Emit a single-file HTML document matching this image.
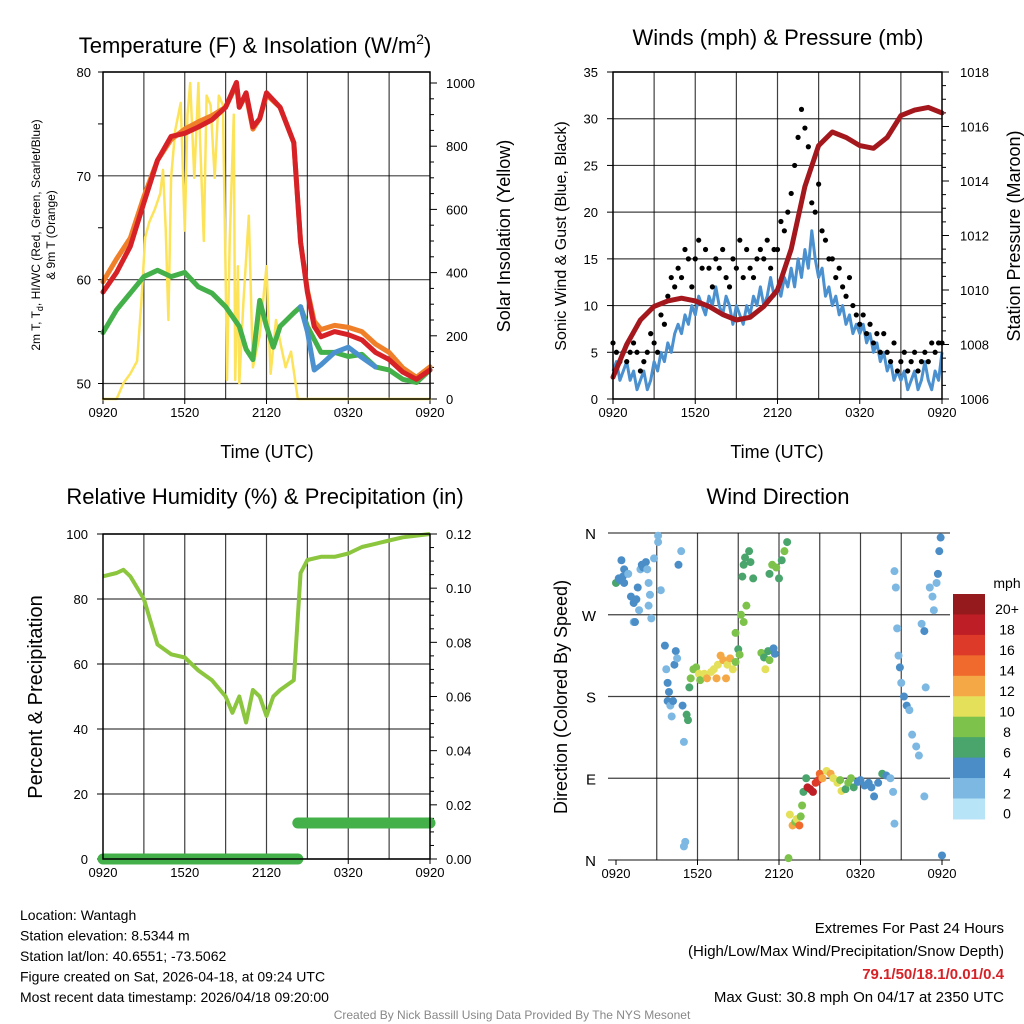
<!DOCTYPE html>
<html><head><meta charset="utf-8">
<style>
html,body{margin:0;padding:0;background:#fff;}
svg{display:block;font-family:"Liberation Sans",sans-serif;}
</style></head>
<body>
<svg id="c" width="1024" height="1024" viewBox="0 0 1024 1024" xmlns="http://www.w3.org/2000/svg"></svg>
<script>
// ---------- DATA ----------
const xTickLabels = ["0920","1520","2120","0320","0920"];
// Panel 1: temperature (F) & insolation
const tempHours = [0,1,2,3,4,5,6,7,8,9,9.8,10,10.5,11,11.5,12,13,14,14.5,15,15.5,16,17,18,19,20,21,22,23,24];
const tempRed   = [58.8,60.7,63.2,67.4,71.5,73.8,74.1,74.7,75.4,76.6,79.0,76.6,78,74.7,75.5,78,76.6,73.2,63.6,58.8,55.5,54.5,55,54.7,54.2,53,52.3,51.1,50.4,51.3];
const tempOrange= [59.8,62.0,64.0,68.0,71.5,73.5,74.5,75.2,75.8,76.6,78.8,76.6,77.8,74.5,75.5,77.8,76.6,73.2,63.6,59.0,56.0,55.2,55.6,55.4,55.0,53.8,53.0,51.5,50.6,51.6];
const dewHours  = [0,1,2,3,4,5,6,7,8,9,10,10.5,11,11.5,12,12.5,13,14,14.5,15,16,17,18,19,20,21,22,23,24];
const dewGreen  = [54.9,57.1,58.7,60.3,60.9,60.3,60.7,59.3,58.7,57.4,55.5,53.3,52.3,58,55.5,53.5,55.5,56.8,57.4,55.5,53,53,52.6,52.8,51.6,51.3,50.4,50.1,51.3];
const wcHours   = [14.5,15,15.5,16,17,18,19,20];
const wcBlue    = [57.4,55,51.3,51.8,53,53.5,52.5,51.6];
const solHours  = [0,1,1.5,2,2.5,2.8,3.1,3.4,3.8,4.2,4.4,4.6,4.8,5.0,5.3,5.7,6.0,6.2,6.4,6.7,7.0,7.1,7.4,7.6,7.9,8.2,8.5,8.8,9.0,9.1,9.3,9.6,9.7,9.9,10.0,10.3,10.7,11.0,11.5,12.0,12.3,12.7,13.1,13.4,13.8,14.3,24];
const solar     = [0,0,50,80,120,300,512,560,600,650,725,540,250,700,850,937,533,900,1000,700,1000,850,500,960,930,700,960,930,400,60,500,900,60,420,50,300,580,100,200,420,80,250,160,100,150,0,0];
// Panel 2: winds & pressure (wind/gust every 15 min, pressure hourly)
const windSpeed = [3,4,2,3, 4,2,3,1, 2,3,1,2, 4,3,5,4, 6,5,7,8, 7,9,8,10, 9,11,10,9, 11,10,12,10, 9,11,10,8, 10,9,8,10, 9,11,10,12, 10,11,13,11, 12,11,13,12, 14,12,15,13, 16,14,18,15, 13,14,11,12, 10,11,9,10, 8,9,7,8, 7,8,6,7, 5,6,4,5, 3,4,2,3, 2,3,1,2, 3,1,2,4, 2,1,3,2, 5];
const gustSpeed = [6,5,4,5,4,5,6,5,3,4,5,7,6,5,9,8,11,13,12,14,13,16,15,12,15,17,14,16,14,12,15,14,16,13,12,15,14,17,13,16,14,13,15,16,15,17,14,16,16,19,18,20,22,25,28,31,29,27,21,20,23,18,17,15,15,13,14,12,11,13,10,9,8,9,7,8,6,7,5,7,5,4,6,3,4,5,3,4,5,3,4,5,4,6,5,6,6];
const pressure  = [1006.8,1008,1008.9,1009.4,1009.6,1009.7,1009.6,1009.4,1009.1,1008.9,1009.0,1009.4,1010.0,1011.5,1013.8,1015.3,1015.8,1015.6,1015.3,1015.2,1015.6,1016.4,1016.6,1016.7,1016.5];
// Panel 3: RH & precip
const rhHours = [0,1,1.5,2,3,3.5,4,5,6,7,8,9,9.5,10,10.5,11,11.5,12,12.5,13,14,14.5,15,16,17,18,19,20,21,22,23,24];
const rhValues= [87,88,89,87,80,73,66,63,62,58,55,50,45,50,42,52,50,44,50,52,55,88,92,93,93,94,96,97,98,99,99.5,100];
const precipHours = [0,14.3,14.3,24];
const precipValues= [0,0,0.0133,0.0133];
// Panel 4: wind direction
const dirHours = [0,0.2,0.3,0.5,0.6,0.4,0.6,0.9,1.1,1.3,1.3,1.4,1.5,1.6,1.7,1.8,1.9,2,2.2,2.3,2.4,2.4,2.5,2.6,2.8,3.1,3.1,3.3,3.6,3.7,3.8,3.9,3.8,4,4.1,4.2,4.3,4.4,4.5,4.6,4.8,4.9,5.0,5.0,5.1,5.2,5.3,
 5.4,5.5,5.7,5.9,6.1,6.2,6.5,6.7,7.0,7.2,7.4,7.5,7.7,7.9,8.1,8.2,8.4,8.6,8.8,8.8,9.0,9.1,9.2,9.4,
 9.3,9.4,9.5,9.8,9.9,10.1,9.6,
 10.7,10.9,11.0,11.2,11.3,11.6,11.7,
 11.3,11.5,11.8,12.0,12.2,12.4,12.6,
 12.7,
 12.8,13.0,13.2,13.3,13.5,13.6,
 13.7,13.8,14.0,
 14.1,14.3,14.5,14.7,14.9,15.0,15.2,
 15.5,15.8,16.0,16.3,16.5,16.6,16.9,17.1,17.3,17.5,17.8,18.0,18.3,18.6,18.8,19.0,19.3,19.6,19.9,20.2,
 20.4,20.5,20.5,
 20.6,20.7,20.8,20.9,21.0,21.2,21.4,21.6,21.8,22.1,22.3,22.7,22.5,22.7,22.8,23.1,23.3,23.4,23.6,23.7,23.8,23.9,24];
const dirDeg   = [305,310,308,312,305,330,320,315,290,283,262,262,287,300,275,320,325,322,328,320,305,280,292,266,332,350,357,297,236,210,195,185,175,170,158,175,215,230,222,325,340,170,130,15,20,160,154,190,200,210,212,205,198,205,200,207,210,200,215,225,220,200,215,222,210,218,250,232,226,270,262,312,325,333,340,328,310,280,228,223,210,230,220,233,227,315,325,322,310,330,340,350,2,50,38,42,45,38,48,60,75,90,80,78,75,85,88,95,90,98,95,90,85,88,76,78,85,90,80,86,88,82,85,80,70,85,95,93,90,75,40,318,300,255,225,212,195,180,170,165,138,125,115,70,260,252,190,300,290,275,305,315,340,355,5];
const dirSpeed = [6,4,4,4,4,3,3,2,3,4,2,4,4,3,2,2,4,4,3,2,2,1,1,2,2,2,2,1,4,2,4,4,4,2,2,4,3,4,2,4,2,3,2,2,2,6,6,6,8,8,8,10,8,10,12,10,10,12,10,12,12,12,10,12,10,8,8,6,8,8,8,6,6,6,6,6,6,8,8,6,10,6,8,4,4,6,8,8,6,6,8,6,8,10,12,8,10,14,8,8,6,6,18,18,18,16,16,14,12,10,12,10,10,8,10,6,8,8,6,4,4,4,4,4,4,4,6,4,2,2,1,1,2,2,2,4,2,4,4,2,1,2,2,2,2,3,1,2,2,1,2,3,4,4,4];
const cbLabels = ["0","2","4","6","8","10","12","14","16","18","20+"];
const cbColors = ["#b8e4f7","#7db8e3","#4a8dc7","#49a56c","#7cc24b","#e5e05a","#f5a846","#ef6a2c","#dd3a2a","#be1e25","#941a1d"];

// ---------- HELPERS ----------
const NS="http://www.w3.org/2000/svg";
const svg=document.getElementById('c');
function mk(tag,attrs,parent){const e=document.createElementNS(NS,tag);for(const k in attrs)e.setAttribute(k,attrs[k]);(parent||svg).appendChild(e);return e;}
function txt(s,x,y,size,anchor,parent,extra){const t=mk('text',Object.assign({x:x,y:y,'font-size':size,'text-anchor':anchor||'middle',fill:'#000'},extra||{}),parent);t.textContent=s;return t;}
function lin(d0,d1,r0,r1){return v=>r0+(v-d0)*(r1-r0)/(d1-d0);}

function frame(x0,x1,y0,y1,name){
  const g=mk('g',{});
  
  
  const xs=lin(0,24,x0,x1);
  for(let h=3;h<24;h+=3){const l=mk('line',{x1:xs(h),x2:xs(h),y1:y0,y2:y1,stroke:'#000','stroke-width':1.2,'stroke-opacity':0.75},g);
    
    }
  for(let i=0;i<5;i++){const x=xs(i*6);
    mk('line',{x1:x,x2:x,y1:y1,y2:y1+5,stroke:'#000','stroke-width':1},g);
    const t=txt(xTickLabels[i],x,y1+18,13,'middle',g);
    
    }
  return {g,xs};
}

// ---------- PANEL 1 ----------
(function(){
  const X0=103,X1=430,Y0=72,Y1=399;
  const {g,xs}=frame(X0,X1,Y0,Y1,'temperature-panel');
  const yT=lin(50,80,383.5,72), yS=lin(0,1000,399,83);
  [50,60,70,80].forEach(v=>{const l=mk('line',{x1:X0,x2:X1,y1:yT(v),y2:yT(v),stroke:'#000','stroke-width':1.2,'stroke-opacity':0.75},g);
    
    
    const t=txt(String(v),X0-12,yT(v)+5,13,'end',g);
    
    });
  for(let v=50;v<=80;v+=5)mk('line',{x1:X0-5,x2:X0,y1:yT(v),y2:yT(v),stroke:'#000'},g);
  for(let v=0;v<=1000;v+=50){mk('line',{x1:X1,x2:X1+(v%200?4:7),y1:yS(v),y2:yS(v),stroke:'#000'},g);}
  for(let v=0;v<=1000;v+=200){const t=txt(String(v),X1+16,yS(v)+5,13,'start',g);
    
    }
  function path(hs,vs,ys,col,w,name){let d='';hs.forEach((h,i)=>{d+=(i?'L':'M')+xs(h).toFixed(1)+','+ys(vs[i]).toFixed(1);});
    const p=mk('path',{d:d,fill:'none',stroke:col,'stroke-width':w,'stroke-linejoin':'round','stroke-linecap':'round'},g);
    
    }
  path(solHours,solar,yS,'#fde35a',2.5,'solar-insolation-line');
  path(dewHours,dewGreen,yT,'#43b049',5,'dewpoint-line');
  path(wcHours,wcBlue,yT,'#4b90cf',5,'windchill-line');
  path(tempHours,tempOrange,yT,'#f07f2a',5,'temp-9m-line');
  path(tempHours,tempRed,yT,'#d62227',5,'temp-2m-line');
  mk('rect',{x:X0,y:Y0,width:X1-X0,height:Y1-Y0,fill:'none',stroke:'#000','stroke-width':1.5},g);
  const t1=txt('Temperature (F) & Insolation (W/m',255,53,22,'middle',g);
  const sup=mk('tspan',{dy:-9,'font-size':14},t1);sup.textContent='2';
  const cl=mk('tspan',{dy:9},t1);cl.textContent=')';
  
  
  const xt=txt('Time (UTC)',267,458,18,'middle',g);
  
  
  const ya=txt('2m T, T',0,0,12,'middle',g,{transform:'translate(40,235) rotate(-90)'});
  const sub=mk('tspan',{dy:3,'font-size':9},ya);sub.textContent='d';
  const rest=mk('tspan',{dy:-3},ya);rest.textContent=', HI/WC (Red, Green, Scarlet/Blue)';
  
  
  const ya2=txt('& 9m T (Orange)',0,0,12,'middle',g,{transform:'translate(55,235) rotate(-90)'});
  
  
  const yr=txt('Solar Insolation (Yellow)',0,0,18,'middle',g,{transform:'translate(510,236) rotate(-90)'});
  
  
})();

// ---------- PANEL 2 ----------
(function(){
  const X0=613,X1=942,Y0=72,Y1=399;
  const {g,xs}=frame(X0,X1,Y0,Y1,'winds-panel');
  const yW=lin(0,35,399,72), yP=lin(1006,1018,399,72);
  for(let v=0;v<=35;v+=5){const l=mk('line',{x1:X0,x2:X1,y1:yW(v),y2:yW(v),stroke:'#000','stroke-width':1.2,'stroke-opacity':0.75},g);
    
    
    mk('line',{x1:X0-6,x2:X0,y1:yW(v),y2:yW(v),stroke:'#000'},g);
    const t=txt(String(v),X0-15,yW(v)+5,13,'end',g);
    
    }
  for(let v=1006;v<=1018;v+=0.5)mk('line',{x1:X1,x2:X1+(v%2?4:7),y1:yP(v),y2:yP(v),stroke:'#000'},g);
  for(let v=1006;v<=1018;v+=2){const t=txt(String(v),X1+18,yP(v)+5,13,'start',g);
    
    }
  let d='';windSpeed.forEach((v,i)=>{d+=(i?'L':'M')+xs(i*0.25).toFixed(1)+','+yW(v).toFixed(1);});
  const wp=mk('path',{d:d,fill:'none',stroke:'#4b90cf','stroke-width':3,'stroke-linejoin':'round'},g);
  
  
  gustSpeed.forEach((v,i)=>{const c=mk('circle',{cx:xs(i*0.25),cy:yW(v),r:2.6,fill:'#000'},g);
    
    });
  d='';pressure.forEach((v,i)=>{d+=(i?'L':'M')+xs(i).toFixed(1)+','+yP(v).toFixed(1);});
  const pp=mk('path',{d:d,fill:'none',stroke:'#a3171d','stroke-width':5,'stroke-linejoin':'round','stroke-linecap':'round'},g);
  
  
  mk('rect',{x:X0,y:Y0,width:X1-X0,height:Y1-Y0,fill:'none',stroke:'#000','stroke-width':1.5},g);
  const t=txt('Winds (mph) & Pressure (mb)',778,45,22,'middle',g);
  
  
  const xt=txt('Time (UTC)',777,458,18,'middle',g);
  
  
  const ya=txt('Sonic Wind & Gust (Blue, Black)',0,0,16,'middle',g,{transform:'translate(566,236) rotate(-90)'});
  
  
  const yr=txt('Station Pressure (Maroon)',0,0,18,'middle',g,{transform:'translate(1020,236) rotate(-90)'});
  
  
})();

// ---------- PANEL 3 ----------
(function(){
  const X0=103,X1=430,Y0=534,Y1=859;
  const {g,xs}=frame(X0,X1,Y0,Y1,'humidity-panel');
  const yR=lin(0,100,859,534), yQ=lin(0,0.12,859,534);
  for(let v=0;v<=100;v+=20){const l=mk('line',{x1:X0,x2:X1,y1:yR(v),y2:yR(v),stroke:'#000','stroke-width':1.2,'stroke-opacity':0.75},g);
    
    
    mk('line',{x1:X0-6,x2:X0,y1:yR(v),y2:yR(v),stroke:'#000'},g);
    const t=txt(String(v),X0-15,yR(v)+5,13,'end',g);
    
    }
  for(let v=0;v<=0.1201;v+=0.005)mk('line',{x1:X1,x2:X1+(Math.round(v*1000)%20?4:7),y1:yQ(v),y2:yQ(v),stroke:'#000'},g);
  for(let v=0;v<=0.1201;v+=0.02){const t=txt(v.toFixed(2),X1+16,yQ(v)+5,13,'start',g);
    
    }
  const segs=[[0,1],[2,3]];
  segs.forEach(s=>{const p=mk('line',{x1:xs(precipHours[s[0]]),x2:xs(precipHours[s[1]]),y1:yQ(precipValues[s[0]]),y2:yQ(precipValues[s[1]]),stroke:'#43b049','stroke-width':11,'stroke-linecap':'round'},g);
    
    });
  let d='';rhHours.forEach((h,i)=>{d+=(i?'L':'M')+xs(h).toFixed(1)+','+yR(rhValues[i]).toFixed(1);});
  const rp=mk('path',{d:d,fill:'none',stroke:'#8cc63f','stroke-width':4,'stroke-linejoin':'round'},g);
  
  
  mk('rect',{x:X0,y:Y0,width:X1-X0,height:Y1-Y0,fill:'none',stroke:'#000','stroke-width':1.5},g);
  const t=txt('Relative Humidity (%) & Precipitation (in)',265,504,22,'middle',g);
  
  
  const ya=txt('Percent & Precipitation',0,0,20,'middle',g,{transform:'translate(42,697) rotate(-90)'});
  
  
})();

// ---------- PANEL 4 ----------
(function(){
  const X0=616,X1=942,Y0=533,Y1=860;
  const {g,xs}=frame(X0,X1,Y0,Y1,'wind-direction-panel');
  const yD=lin(0,360,860,533);
  const dl=['N','E','S','W','N'];
  for(let i=0;i<5;i++){const v=i*90;const l=mk('line',{x1:X0-8,x2:X1+8,y1:yD(v),y2:yD(v),stroke:'#000','stroke-width':1.2,'stroke-opacity':0.75},g);
    
    
    const t=txt(dl[i],X0-20,yD(v)+6,15,'end',g);
    
    }
  dirHours.forEach((h,i)=>{const idx=Math.min(10,Math.max(0,Math.round(dirSpeed[i]/2)));
    const c=mk('circle',{cx:xs(h),cy:yD(dirDeg[i]),r:4,fill:cbColors[idx]},g);
    
    });
  const t=txt('Wind Direction',778,504,22,'middle',g);
  
  
  const ya=txt('Direction (Colored By Speed)',0,0,18,'middle',g,{transform:'translate(567,697) rotate(-90)'});
  
  
  const cb=mk('g',{},g);
  
  
  const top=594,h=20.45;
  for(let i=0;i<11;i++){const k=10-i;
    const r=mk('rect',{x:953,y:top+i*h,width:32,height:h+0.5,fill:cbColors[k]},cb);
    
    
    const l=txt(cbLabels[k],1007,top+i*h+h/2+10,14,'middle',cb);
    
    }
  const u=txt('mph',1007,588,14,'middle',cb);
  
  
})();

// ---------- FOOTER ----------
const left=["Location: Wantagh","Station elevation: 8.5344 m","Station lat/lon: 40.6551; -73.5062","Figure created on Sat, 2026-04-18, at 09:24 UTC","Most recent data timestamp: 2026/04/18 09:20:00"];
left.forEach((s,i)=>{const t=txt(s,20,920+i*20.5,14,'start');
  
  });
const r1=txt('Extremes For Past 24 Hours',1004,933,15,'end');


const r2=txt('(High/Low/Max Wind/Precipitation/Snow Depth)',1004,956,15,'end');


const r3=txt('79.1/50/18.1/0.01/0.4',1004,979,15,'end',null,{fill:'#d62227','font-weight':'bold'});


const r4=txt('Max Gust: 30.8 mph On 04/17 at 2350 UTC',1004,1002,15,'end');


const cr=txt('Created By Nick Bassill Using Data Provided By The NYS Mesonet',512,1019,12,'middle',null,{fill:'#888'});


</script>
</body></html>
